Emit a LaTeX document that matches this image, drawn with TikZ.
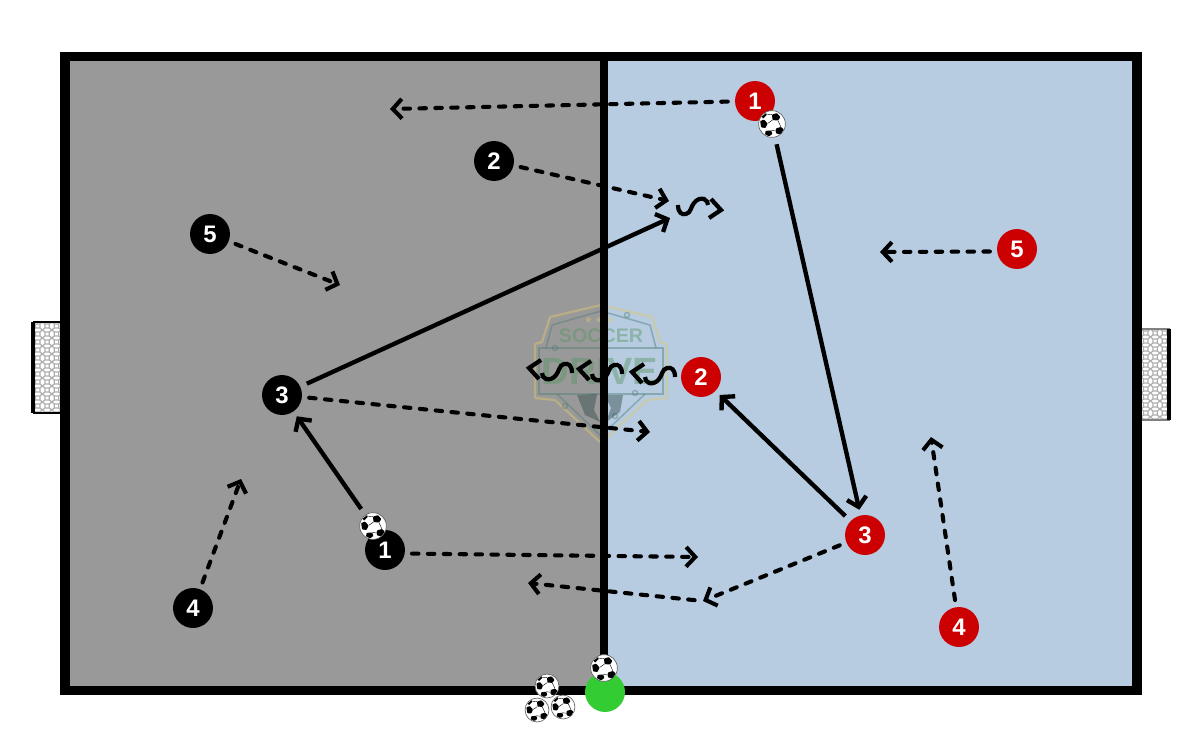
\documentclass[tikz,border=0pt]{standalone}
\usepackage{xcolor}
\usepackage{fontspec}
\setmainfont{Liberation Sans}
\newfontfamily\starfont{DejaVu Sans}
\definecolor{fieldgray}{RGB}{153,153,153}
\definecolor{fieldblue}{RGB}{183,204,225}
\definecolor{teamred}{RGB}{204,0,0}
\definecolor{coachgreen}{RGB}{51,204,51}
\definecolor{netgray}{RGB}{175,175,175}
\definecolor{logogold}{RGB}{222,200,110}
\definecolor{logoteal}{RGB}{80,125,120}
\definecolor{logogreen}{RGB}{90,150,100}
\usetikzlibrary{arrows.meta,positioning,calc}
\tikzset{
  player/.style={circle, minimum size=28.4pt, inner sep=0pt, text=white, font=\fontsize{17}{17}\selectfont\bfseries},
  blackplayer/.style={player, fill=black},
  redplayer/.style={player, fill=teamred},
  ball/.style={circle, draw=black!60, line width=0.5pt, fill=white, minimum size=#1, inner sep=0pt,
    path picture={
      \begin{scope}[shift={(path picture bounding box.center)}, x=#1/27, y=-#1/27]
      \fill[black, rounded corners=0.5pt] (0.5,-4) -- (6,-3.5) -- (8.5,-7) -- (5,-11) -- (0,-9.5) -- cycle;
      \fill[black, rounded corners=0.5pt] (-12,-3) -- (-8,-4.5) -- (-4.5,-0.5) -- (-6.5,4) -- (-11,3.5) -- cycle;
      \fill[black, rounded corners=0.5pt] (-6.5,7) -- (-1,6.5) -- (0.5,10) -- (-3,12.5) -- (-7,10.5) -- cycle;
      \fill[black, rounded corners=0.5pt] (4,4.5) -- (9,3) -- (12,5.5) -- (9,10.5) -- (4,9.5) -- cycle;
      \fill[black] (-10.5,-7.5) -- (-6,-11) -- (-5.5,-9) -- (-9,-5.5) -- cycle;
      \draw[black, line width=0.3pt] (0.5,-4) -- (-4.5,-0.5) (-1,6.5) -- (4,7) (6,-3.5) -- (9,3) (0,-9.5) -- (-6,-10);
      \end{scope}}},
  ball/.default=19pt,
  tonode/.style={shorten >=4pt},
  pass/.style={line width=3.1pt, -{Straight Barb[length=6.5pt,width=14pt]}, shorten <=5pt},
  run/.style={line width=2.9pt, line cap=round, dash pattern=on 4.6pt off 6.7pt, -{Straight Barb[length=6.5pt,width=14pt,line cap=butt]}, shorten <=5pt},
  squig/.pic={
    \draw[line width=3pt] (0,0) .. controls (0,-8) and (-4,-10) .. (-8,-9) .. controls (-13,-8) and (-13,-1) .. (-16,2) .. controls (-19,6) and (-23,7) .. (-26,6) .. controls (-29,5) and (-30,2) .. (-30,0);
    \draw[line width=3pt] (-31,-13) -- (-43,-5) -- (-33,6);
  },
  net/.pic={
    \fill[white] (0,0) rectangle (28,91);
    \begin{scope}
    \clip (0,0) rectangle (28,91);
    \foreach \i in {0,1,2} {
      \foreach \j in {0,...,11} {
        \draw[netgray, line width=0.9pt, xshift=\i*9.4*0.025cm, yshift=-\j*8*0.025cm] (0,0) -- ++(2.5,2) -- ++(0,4) -- ++(-2.5,2) (2.5,2) -- ++(4.4,0) -- ++(2.5,-2) (2.5,6) -- ++(4.4,0) -- ++(2.5,2) (6.9,2) -- ++(0,4);
      }
    }
    \end{scope}
  }
}
\begin{document}
\begin{tikzpicture}[x=0.025cm, y=-0.025cm]
\useasboundingbox (0,0) rectangle (1200,750);
% Field halves
\fill[fieldgray] (65,56) rectangle (604,690);
\fill[fieldblue] (604,56) rectangle (1137,690);
% Goals
\pic at (33,322) {net};
\draw[black, line width=0.8pt] (33,322) -- (61,322) (33,413) -- (61,413);
\fill[black] (31,322) rectangle (35,413);
\pic at (1141,329) {net};
\draw[black!50, line width=0.8pt] (1141,329) -- (1170,329) (1141,420) -- (1170,420);
\fill[black] (1167,329) rectangle (1171,420);
% Logo
\begin{scope}[opacity=0.45]
\draw[logogold, line width=1.6pt, line join=round] (601,305) -- (652,317) -- (660,342) -- (667,344) -- (667,398) -- (647,400) -- (601,443) -- (555,400) -- (535,398) -- (535,344) -- (542,342) -- (550,317) -- cycle;
\draw[logoteal, line width=1.1pt, line join=round] (601,311) -- (650,325) -- (656,348) (546,348) -- (552,325) -- (601,311) (645,394) -- (601,436) -- (557,394);
\draw[logoteal, line width=1.1pt] (539,348) rectangle (663,394);
\draw[logoteal, line width=1pt] (627,315) circle (2.5) (555,348) circle (2.5) (635,393) circle (2.5) (565,406) circle (2.5) (615,416) circle (2.5);
\fill[logoteal!60!black] (577,395) -- (597,394) -- (594,410) -- (600,422) -- (585,415) -- cycle;
\fill[logoteal!60!black] (605,395) -- (623,395) -- (620,412) -- (606,422) -- (611,408) -- cycle;
\node[font=\fontsize{14}{14}\selectfont\bfseries, text=logogreen] (soccertext) at (601,336) {SOCCER};
\node[font=\fontsize{27}{27}\selectfont\bfseries, text=logogreen] (drivetext) at (600,371) {DRIVE};
\node[font=\fontsize{7}{7}\selectfont\starfont, text=logogold] (stars) at (599,320) {★\,★\,★};
\end{scope}
% Field border and halfway line
\draw[black, line width=5.7pt] (604,56) -- (604,690);
\draw[black, line width=7pt] (65,56.5) rectangle (1137,690.5);
% Black team
\node[blackplayer] (b1) at (385,550) {1};
\node[blackplayer] (b2) at (494,161) {2};
\node[blackplayer] (b3) at (282,395) {3};
\node[blackplayer] (b4) at (193,608) {4};
\node[blackplayer] (b5) at (210,234) {5};
% Red team
\node[redplayer] (r1) at (755,101) {1};
\node[redplayer] (r2) at (701,377) {2};
\node[redplayer] (r3) at (865,535) {3};
\node[redplayer] (r4) at (959,627) {4};
\node[redplayer] (r5) at (1017,249) {5};
% Coach and balls
\node[circle, fill=coachgreen, minimum size=28.4pt, inner sep=0pt] (coach) at (605,692) {};
\node[ball] (ballcoach) at (604,668) {};
\node[ball=17pt] (spare1) at (547,686) {};
\node[ball=17pt] (spare2) at (537,710) {};
\node[ball=17pt] (spare3) at (563,707) {};
\node[ball] (ballb) at (373,526) {};
\node[ball] (ballr) at (772,124) {};
% Free ends
\coordinate (r1end) at (390,109);
\coordinate (b2end) at (669,201);
\coordinate (b5end) at (340,285);
\coordinate (b3end) at (650,432);
\coordinate (b3pass) at (670,218);
\coordinate (b1end) at (698,557);
\coordinate (b4end) at (241,479);
\coordinate (r3turn) at (703,601);
\coordinate (r3end) at (528,583);
\coordinate (r5end) at (880,252);
\coordinate (r4end) at (931,437);
% Passes
\draw[pass] (b3) -- (b3pass);
\draw[pass, tonode] (ballb) -- (b3);
\draw[pass, tonode] (ballr) -- (r3);
\draw[pass, tonode] (r3) -- (r2);
% Runs
\draw[run] (r1) -- (r1end);
\draw[run] (b2) -- (b2end);
\draw[run] (b5) -- (b5end);
\draw[run] (b3) -- (b3end);
\draw[run] (b1.350) -- (b1end);
\draw[run] (b4) -- (b4end);
\draw[run] (r3) -- (r3turn);
\draw[run, shorten <=6pt] (r3turn) -- (r3end);
\draw[run] (r5.187) -- (r5end);
\draw[run] (r4) -- (r4end);
% Dribbles
\pic at (675,377) {squig};
\pic at (622,374) {squig};
\pic at (572,373) {squig};
\pic[rotate=180] at (678,205) {squig};
\end{tikzpicture}
\end{document}
